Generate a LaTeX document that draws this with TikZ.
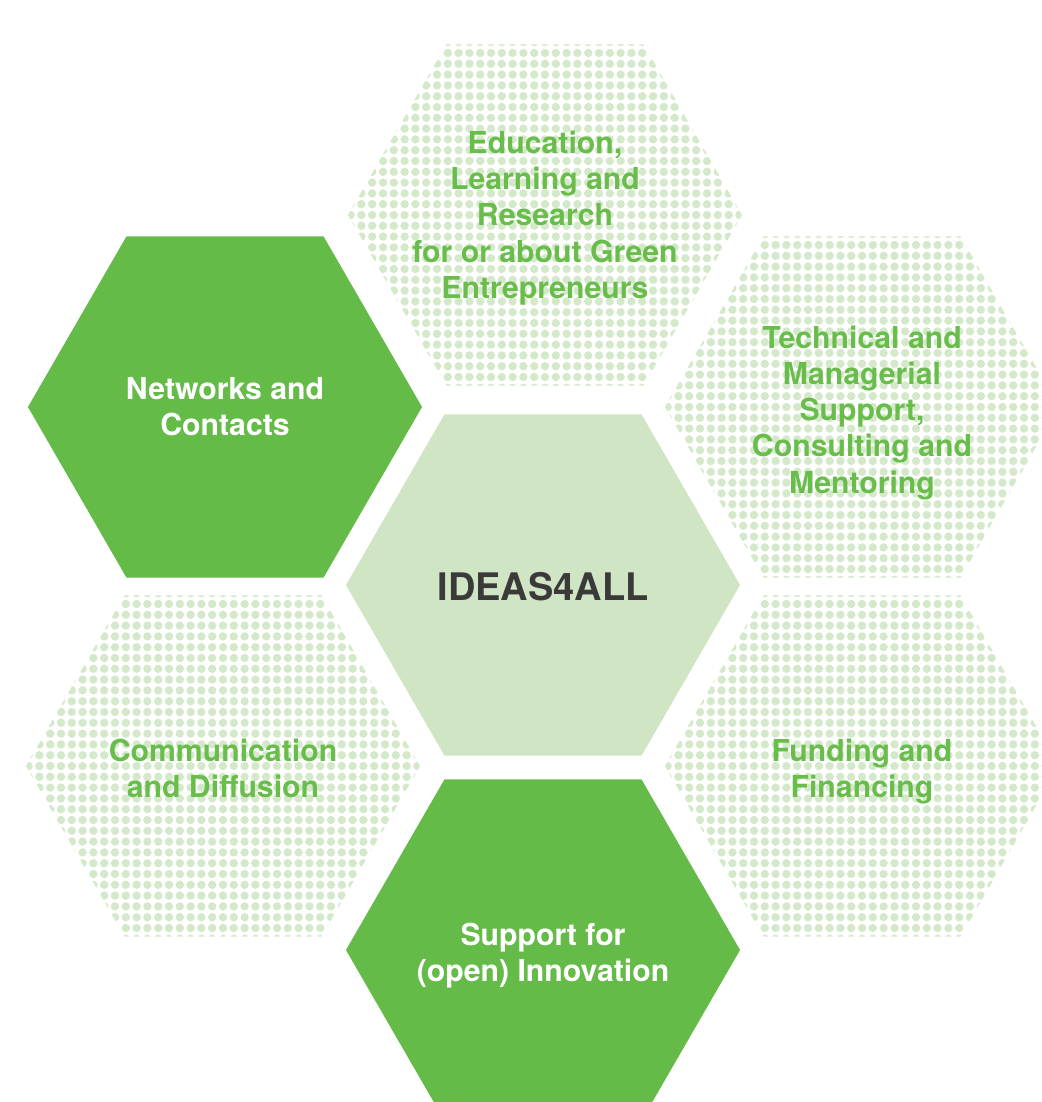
\documentclass[tikz,border=0pt]{standalone}
\usepackage{fontspec}
\setmainfont{TeX Gyre Heros}
\usetikzlibrary{shapes.geometric}

\definecolor{leafgreen}{HTML}{65BB48}
\definecolor{palegreen}{HTML}{D0E5C3}
\definecolor{dotgreen}{HTML}{D4E8CA}
\definecolor{textgreen}{HTML}{69BD4B}
\definecolor{coregray}{HTML}{3A3A3A}

\begin{document}
\begin{tikzpicture}[x=0.025cm, y=-0.025cm,
    hex/.style = {
      regular polygon,
      regular polygon sides = 6,
      minimum size = 9.85cm,
      inner sep = 0pt
    },
    solidhex/.style = {hex, fill = leafgreen},
    corehex/.style = {hex, fill = palegreen},
    dothex/.style = {
      hex,
      path picture = {
        \foreach \i in {-19,...,19}
          \foreach \j in {-17,...,17}
            \fill[dotgreen] (path picture bounding box.center) ++(\i*10.8,\j*10.8) circle (4.2);
      }
    },
    caption/.style = {
      align = center,
      inner sep = 0pt,
      font = \fontsize{21.5}{25.8}\selectfont\bfseries
    },
    whitetext/.style = {caption, text = white},
    greentext/.style = {caption, text = textgreen},
    coretext/.style = {caption, text = coregray,
      font = \fontsize{27}{32}\selectfont\bfseries}
  ]
  \useasboundingbox (0,0) rectangle (1041,1102);

  % honeycomb
  \node[dothex]   (edu)  at (545,215) {};
  \node[solidhex] (net)  at (225,407) {};
  \node[dothex]   (tech) at (862,407) {};
  \node[corehex]  (core) at (543,585) {};
  \node[dothex]   (comm) at (223,766) {};
  \node[dothex]   (fund) at (862,766) {};
  \node[solidhex] (supp) at (543,950) {};

  % captions
  \node[greentext, yshift=-2pt] (edutxt)  at (edu)  {Education,\\Learning and\\Research\\for or about Green\\Entrepreneurs};
  \node[whitetext] (nettxt)  at (net)  {Networks and\\Contacts};
  \node[greentext, yshift=-4pt] (techtxt) at (tech) {Technical and\\Managerial\\Support,\\Consulting and\\Mentoring};
  \node[coretext, yshift=-1pt]  (coretxt) at (core) {IDEAS4ALL};
  \node[greentext, yshift=-1.5pt] (commtxt) at (comm) {Communication\\and Diffusion};
  \node[greentext, yshift=-4pt] (fundtxt) at (fund) {Funding and\\Financing};
  \node[whitetext, yshift=-4pt] (supptxt) at (supp) {Support for\\(open) Innovation};
\end{tikzpicture}
\end{document}
